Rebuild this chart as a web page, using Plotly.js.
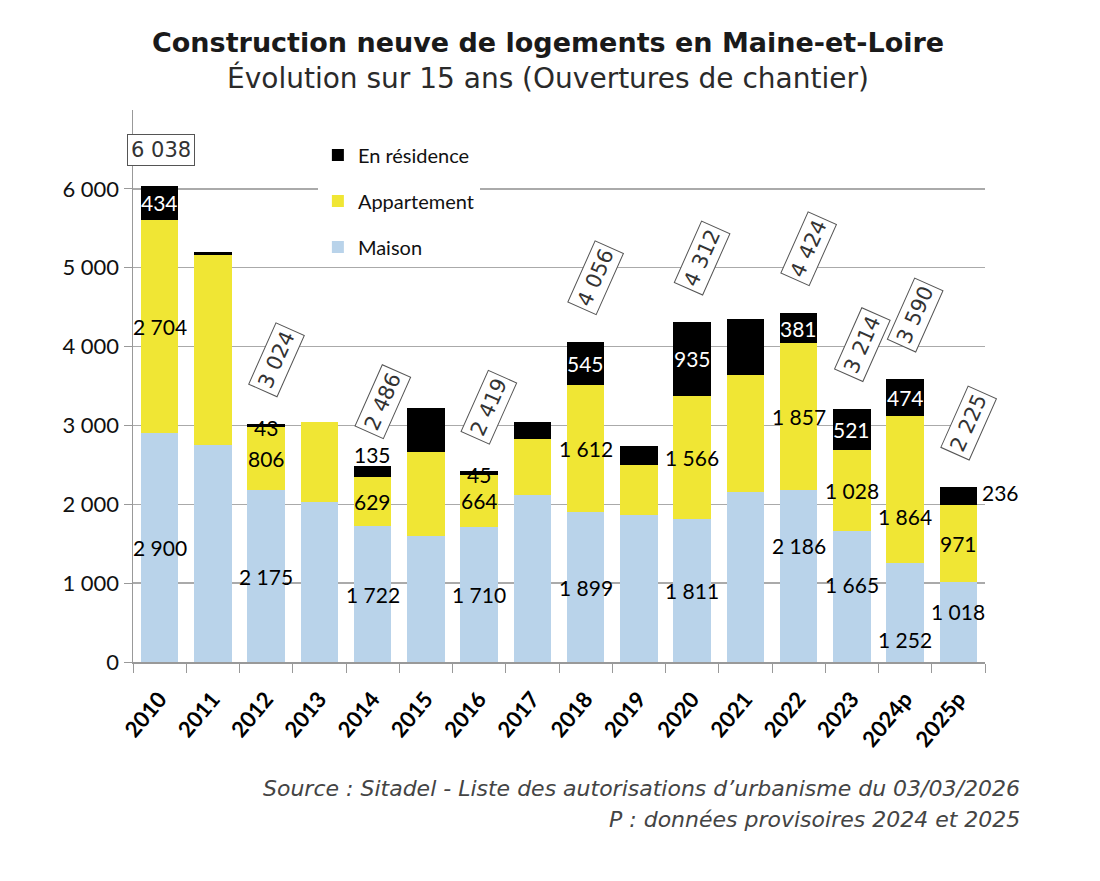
<!DOCTYPE html>
<html>
<head>
<meta charset="utf-8">
<script src="https://cdn.plot.ly/plotly-3.0.1.min.js"></script>
<style>html,body{margin:0;padding:0;background:#fff;}#chart{width:1100px;height:881px;}</style>
</head>
<body>
<div id="chart"></div>
<script>
// ---- Data ----
const years = ['2010','2011','2012','2013','2014','2015','2016','2017','2018','2019','2020','2021','2022','2023','2024p','2025p'];
const maison = [2900,2750,2175,2035,1722,1593,1710,2115,1899,1865,1811,2150,2186,1665,1252,1018];
const appartement = [2704,2410,806,1010,629,1067,664,710,1612,635,1566,1490,1857,1028,1864,971];
const residence = [434,45,43,0,135,558,45,215,545,240,935,710,381,521,474,236];
const labelled = [true,false,true,false,true,false,true,false,true,false,true,false,true,true,true,true];
const yTicks = [0,1000,2000,3000,4000,5000,6000];
const yTickText = ['0','1 000','2 000','3 000','4 000','5 000','6 000'];

// category positions on the axis
const xPos = years.map((_, i) => i);

// ---- Label placement tweaks (style only) ----
const segShift = { // [xshift, yshift, color]
  'residence-2014': [0, 17, '#000'],
  'residence-2012': [0, -2, '#000'],
  'residence-2016': [0, -1, '#000'],
  'residence-2025p': [42, 3, '#000'],
  'maison-2022': [0, 30, '#000'],
  'maison-2023': [0, 12, '#000'],
  'appartement-2024p': [0, -27, '#000'],
  'maison-2024p': [0, -27, '#000'],
  'maison-2025p': [0, 10, '#000']
};

const fmt = v => String(v).replace(/\B(?=(\d{3})+(?!\d))/g, '\u00a0');

const colMaison = '#b9d3ea', colApp = '#f0e634', colRes = '#000000';
const segFont = 'Lato, "Open Sans", sans-serif';
const titleFont = '"DejaVu Sans", "Liberation Sans", Arial, sans-serif';

const traces = [
  {type:'bar', name:'Maison', x:xPos, y:maison, marker:{color:colMaison}, legendgroup:'m', legendrank:3, hoverinfo:'skip'},
  {type:'bar', name:'Appartement', x:xPos, y:appartement, marker:{color:colApp}, legendgroup:'a', legendrank:2, hoverinfo:'skip'},
  {type:'bar', name:'En résidence', x:xPos, y:residence, marker:{color:colRes}, legendgroup:'r', legendrank:1, hoverinfo:'skip'}
];

const ann = [];
years.forEach((yr, i) => {
  if (!labelled[i]) return;
  const segs = [
    ['maison', 0, maison[i], '#000'],
    ['appartement', maison[i], appartement[i], '#000'],
    ['residence', maison[i] + appartement[i], residence[i], '#fff']
  ];
  segs.forEach(([key, base, val, col]) => {
    if (!val) return;
    const s = segShift[key + '-' + yr] || [0, 0, col];
    ann.push({x: xPos[i], y: base + val / 2, xref:'x', yref:'y', text: fmt(val), showarrow:false,
      xanchor:'center', yanchor:'middle',
      xshift: s[0], yshift: s[1], font:{family: segFont, size: 21, color: s[2]}});
  });
  const total = maison[i] + appartement[i] + residence[i];
  const first = i === 0;
  ann.push({x: xPos[i], y: total, xref:'x', yref:'y', text: fmt(total), showarrow:false,
    xanchor:'center', yanchor:'middle',
    xshift: first ? 1 : 10, yshift: first ? 36 : 64, textangle: first ? 0 : -66,
    font:{family: titleFont, size:21, color:'#333'},
    bgcolor:'#fff', bordercolor:'#555', borderwidth:1, borderpad:3});
});

// Titles and source
ann.push({xref:'paper', yref:'paper', x:0.487, y:1.122, xanchor:'center', yanchor:'middle',
  text:'<b>Construction neuve de logements en Maine-et-Loire</b>',
  showarrow:false, font:{family: titleFont, size:27, color:'#1a1a1a'}});
ann.push({xref:'paper', yref:'paper', x:0.487, y:1.058, xanchor:'center', yanchor:'middle',
  text:'Évolution sur 15 ans (Ouvertures de chantier)',
  showarrow:false, font:{family: titleFont, size:28, color:'#2a2a2a'}});
ann.push({xref:'paper', yref:'paper', x:1.0434, y:-0.2288, xanchor:'right', yanchor:'middle',
  text:'<i>Source : Sitadel - Liste des autorisations d\u2019urbanisme du 03/03/2026</i>',
  showarrow:false, font:{family: titleFont, size:22, color:'#444'}});
ann.push({xref:'paper', yref:'paper', x:1.0434, y:-0.2848, xanchor:'right', yanchor:'middle',
  text:'<i>P : données provisoires 2024 et 2025</i>',
  showarrow:false, font:{family: titleFont, size:22, color:'#444'}});

const layout = {
  width:1100, height:881,
  margin:{l:133, r:115, t:109.5, b:218.5},
  paper_bgcolor:'#ffffff', plot_bgcolor:'#ffffff',
  barmode:'stack', bargap:0.3,
  showlegend:true,
  legend:{x:0.217, y:0.954, xanchor:'left', yanchor:'top', bgcolor:'#ffffff', borderwidth:0,
    traceorder:'grouped', tracegroupgap:17, entrywidth:150, entrywidthmode:'pixels',
    font:{family: segFont, size:20, color:'#111'}},
  xaxis:{range:[-0.5, years.length - 0.5], tickmode:'array', tickvals:xPos, ticktext:years,
    tickangle:-50, ticks:'', ticklabelstandoff:14, showline:true, linecolor:'#999', linewidth:1.5, showgrid:false, zeroline:false,
    minor:{tickmode:'linear', tick0:-0.5, dtick:1, ticks:'outside', ticklen:9, tickcolor:'#999', showgrid:false},
    tickfont:{family: segFont, size:22, color:'#000', weight:'bold'}},
  yaxis:{range:[0,7000], tickmode:'array', tickvals:yTicks, ticktext:yTickText, ticks:'outside', ticklen:8, tickcolor:'#999',
    showline:true, linecolor:'#999', linewidth:1.5, gridcolor:'#aaaaaa', gridwidth:1.5, zeroline:false,
    tickfont:{family: segFont, size:22, color:'#111'}},
  annotations: ann
};

Plotly.newPlot('chart', traces, layout, {displayModeBar:false, staticPlot:true});
</script>
</body>
</html>
